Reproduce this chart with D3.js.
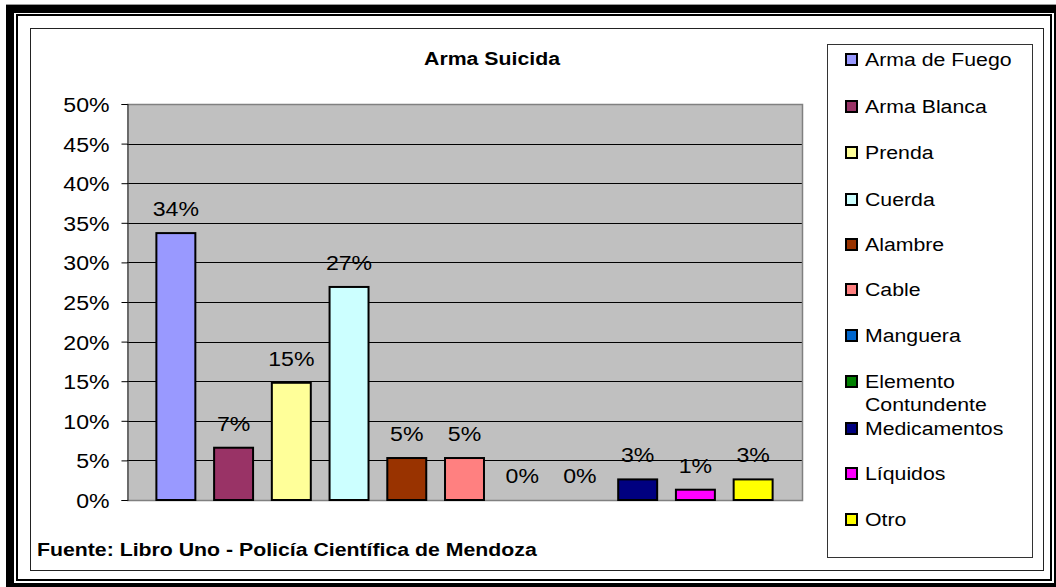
<!DOCTYPE html>
<html><head><meta charset="utf-8">
<script src="https://cdn.jsdelivr.net/npm/d3@7"></script>
<style>
html,body{margin:0;padding:0;background:#fff;}
svg{display:block;}
text{font-family:"Liberation Sans",Arial,sans-serif;fill:#000;}
</style></head>
<body>
<svg id="chart" width="1056" height="587"></svg>
<script>
const categories = ["Arma de Fuego","Arma Blanca","Prenda","Cuerda","Alambre","Cable","Manguera","Elemento Contundente","Medicamentos","Líquidos","Otro"];
const values = [33.7, 6.6, 14.8, 26.9, 5.3, 5.3, 0, 0, 2.6, 1.3, 2.6];
const valueLabels = ["34%","7%","15%","27%","5%","5%","0%","0%","3%","1%","3%"];
const colors = ["#9999FF","#993366","#FFFF99","#CCFFFF","#993300","#FF8080","#0066CC","#008000","#000080","#FF00FF","#FFFF00"];
const legendLines = [["Arma de Fuego"],["Arma Blanca"],["Prenda"],["Cuerda"],["Alambre"],["Cable"],["Manguera"],["Elemento","Contundente"],["Medicamentos"],["Líquidos"],["Otro"]];
const yTicks = [0,5,10,15,20,25,30,35,40,45,50];
const title = "Arma Suicida";
const footer = "Fuente: Libro Uno - Policía Científica de Mendoza";

const svg = d3.select("#chart");
const SX = 1.12;

// outer frame
svg.append("line").attr("x1",6).attr("x2",1056).attr("y1",4.5).attr("y2",4.5).attr("stroke","#9a9a9a").attr("stroke-width",1);
svg.append("rect").attr("x",10).attr("y",9).attr("width",1048).attr("height",578)
  .attr("fill","none").attr("stroke","#000").attr("stroke-width",8);
svg.append("rect").attr("x",17).attr("y",15).attr("width",1034).attr("height",565)
  .attr("fill","none").attr("stroke","#000").attr("stroke-width",2);
// chart area box
svg.append("rect").attr("x",30.5).attr("y",28.5).attr("width",1013).attr("height",542)
  .attr("fill","#fff").attr("stroke","#222").attr("stroke-width",1);

// plot area
const px0 = 127, px1 = 802;
const y = d3.scaleLinear().domain([0,50]).range([500,104]);
const x = d3.scaleBand().domain(categories).range([147,782]).paddingInner(0.325).paddingOuter(0.1625);

svg.append("rect").attr("x",px0).attr("y",y(50)).attr("width",px1-px0).attr("height",y(0)-y(50))
  .attr("fill","#C0C0C0");

// gridlines
svg.append("g").selectAll("line").data(yTicks.filter(t=>t>0 && t<50)).join("line")
  .attr("x1",px0).attr("x2",px1).attr("y1",d=>Math.round(y(d))+0.5).attr("y2",d=>Math.round(y(d))+0.5)
  .attr("stroke","#000").attr("stroke-width",1);

// plot border (gray)
svg.append("path").attr("d",`M${px0},${y(50)+0.5}H${px1+0.5}V${y(0)+0.5}H${px0}`)
  .attr("fill","none").attr("stroke","#808080").attr("stroke-width",1.5);

// y axis
const yAxis = svg.append("g").attr("transform",`translate(${px0+0.5},0)`)
  .call(d3.axisLeft(y).tickValues(yTicks).tickSize(6).tickFormat(d=>d+"%"));
yAxis.select(".domain").attr("stroke","#333").attr("stroke-width",1.2);
yAxis.selectAll(".tick line").attr("stroke","#000");
yAxis.selectAll(".tick text").attr("font-size",21).attr("font-family","Liberation Sans, Arial, sans-serif")
  .attr("x",-18/1.1).attr("dy",7.5).attr("transform","scale(1.1,1)").attr("fill","#000");

// bars
svg.append("g").selectAll("rect").data(categories).join("rect")
  .attr("x",d=>x(d)).attr("width",x.bandwidth())
  .attr("y",(d,i)=>y(values[i])).attr("height",(d,i)=>y(0)-y(values[i]))
  .attr("fill",(d,i)=>colors[i]).attr("stroke","#000").attr("stroke-width",2)
  .style("display",(d,i)=>values[i]>0?null:"none");

// data labels
svg.append("g").selectAll("text").data(categories).join("text")
  .attr("transform",(d,i)=>`translate(${x(d)+x.bandwidth()/2},${y(values[i])-17}) scale(1.1,1)`)
  .attr("text-anchor","middle").attr("font-size",21)
  .text((d,i)=>valueLabels[i]);

// title
svg.append("text").attr("transform",`translate(492,65) scale(${SX},1)`)
  .attr("text-anchor","middle").attr("font-size",19).attr("font-weight","bold").text(title);

// footer
svg.append("text").attr("transform",`translate(37,556) scale(${SX},1)`)
  .attr("font-size",19).attr("font-weight","bold").text(footer);

// legend
svg.append("rect").attr("x",827.5).attr("y",44.5).attr("width",205).attr("height",513)
  .attr("fill","#fff").attr("stroke","#333").attr("stroke-width",1);
const legendY = [59,106,152,199,244,289,335,381,428,473,519];
const lg = svg.append("g").selectAll("g").data(categories).join("g")
  .attr("transform",(d,i)=>`translate(845,${legendY[i]})`);
lg.append("rect").attr("x",1).attr("y",-5).attr("width",11).attr("height",11)
  .attr("fill",(d,i)=>colors[i]).attr("stroke","#000").attr("stroke-width",2);
lg.each(function(d,i){
  const g = d3.select(this);
  legendLines[i].forEach((ln,j)=>{
    g.append("text").attr("transform",`translate(20,${7+j*23}) scale(${SX},1)`)
      .attr("font-size",19).text(ln);
  });
});
</script>
</body></html>
